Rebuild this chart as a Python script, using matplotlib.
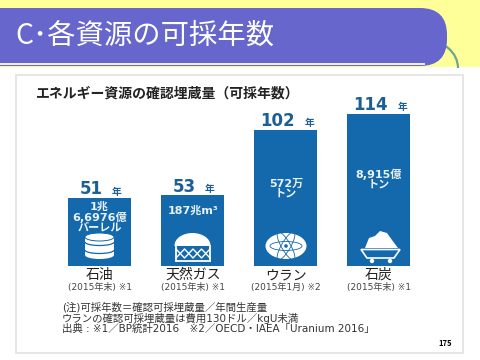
import matplotlib
matplotlib.use('Agg')
import matplotlib.pyplot as plt
from matplotlib.patches import Rectangle, Ellipse, FancyBboxPatch, Polygon, Arc, Circle

JP = ['Noto Sans CJK JP', 'DejaVu Sans']
WIDE = ['DejaVu Sans', 'Noto Sans CJK JP']
plt.rcParams['font.family'] = JP

# Data
resources = ['石油', '天然ガス', 'ウラン', '石炭']
years = [51, 53, 102, 114]
reserves = ['1兆\n6,6976億\nバーレル', '187兆m³', '572万\nトン', '8,915億\nトン']
dates = ['(2015年末) ※1', '(2015年末) ※1', '(2015年1月) ※2', '(2015年末) ※1']
notes = ['(注)可採年数＝確認可採埋蔵量／年間生産量',
         'ウランの確認可採埋蔵量は費用130ドル／kgU未満',
         '出典 : ※1／BP統計2016　※2／OECD・IAEA「Uranium 2016」']

BLUE = '#1468ac'
NAVY = '#1c5f96'
PX = 0.72  # points per pixel at dpi 100

fig = plt.figure(figsize=(4.8, 3.6), dpi=100, facecolor='white')

# Background axes in pixel coordinates
bg = fig.add_axes([0, 0, 1, 1])
bg.set_xlim(0, 480)
bg.set_ylim(360, 0)
bg.axis('off')

# Slide header
bg.add_patch(Rectangle((0, 0), 480, 66.5, color='#ffff99', lw=0))
bg.add_patch(Arc((425, 68), 66, 56, theta1=270, theta2=360, color='#6fa58f', lw=1.6, zorder=1))
bg.add_patch(FancyBboxPatch((-40, 8), 487, 58, boxstyle='round,pad=0,rounding_size=27',
                            fc='#6666cc', ec='none', zorder=2))
bg.plot([0, 424], [63.5, 63.5], color='white', lw=1.3, zorder=4)
bg.text(15, 35.5, 'C･各資源の可採年数', color='white', fontsize=20.4, va='center', ha='left', zorder=5)

# Panel
bg.add_patch(Rectangle((16, 74.5), 447, 278, fc='white', ec='#e2e2e2', lw=1.2, zorder=3))
bg.text(36, 93.5, 'エネルギー資源の確認埋蔵量（可採年数）', fontsize=10, fontweight='bold',
        color='#222222', va='center', ha='left', zorder=5)

for i, line in enumerate(notes):
    bg.text(62, 307.5 + i * 10.7, line, fontsize=7.5, family=WIDE, color='#333333',
            va='center', ha='left', zorder=5)
bg.text(445, 343, '175', fontsize=5.5, fontweight='bold', color='black', va='center', ha='center', zorder=5)

# Bars
ax = fig.add_axes([53 / 480, (360 - 266) / 360, 372 / 480, 166 / 360])
ax.set_xlim(-0.5, 3.5)
ax.set_ylim(0, 124.5)
ax.axis('off')
ax.patch.set_alpha(0)
ax.bar(range(len(years)), years, width=0.67, color=BLUE)
for i, v in enumerate(years):
    year_dx = 24 if v >= 100 else 17.5
    ax.annotate(str(v), (i, v), xytext=(-8 * PX, 3.5 * PX), textcoords='offset points', ha='center',
                va='baseline', fontsize=12, fontweight='bold', family=WIDE, color=NAVY, annotation_clip=False)
    ax.annotate('年', (i, v), xytext=(year_dx * PX, 3.5 * PX), textcoords='offset points', ha='center',
                va='baseline', fontsize=7, fontweight='bold', color=NAVY, annotation_clip=False)

# Labels under and inside the bars
centers = [99.5, 193, 286, 379]
text_y = [217, 211, 189, 179]
fg = fig.add_axes([0, 0, 1, 1])
fg.set_xlim(0, 480)
fg.set_ylim(360, 0)
fg.axis('off')
fg.patch.set_alpha(0)
for x, name, d, r, y in zip(centers, resources, dates, reserves, text_y):
    fg.text(x, 275, name, fontsize=10, ha='center', va='center', color='#222222')
    fg.text(x, 287.5, d, fontsize=6.5, family=WIDE, ha='center', va='center', color='#444444')
    fg.text(x, y, r, fontsize=8, family=WIDE, fontweight='bold', ha='center', va='center',
            color='#e8f2f8', linespacing=0.95)

# Oil drum
x = centers[0]
fg.add_patch(Rectangle((x - 14.5, 237), 29, 18, fc='white', ec='none'))
fg.add_patch(Ellipse((x, 255), 29, 8, fc='white', ec='none'))
fg.add_patch(Ellipse((x, 237), 29, 8, fc='white', ec=BLUE, lw=0.7))
fg.add_patch(Arc((x, 242), 29, 7, theta1=0, theta2=180, color=BLUE, lw=0.9))
fg.add_patch(Arc((x, 250), 29, 7, theta1=0, theta2=180, color=BLUE, lw=0.9))

# Gas tank
x = centers[1]
fg.add_patch(Ellipse((x - 0.5, 245.5), 36, 25, fc='white', ec='none'))
fg.add_patch(Rectangle((x - 20, 245.5), 40, 18, fc=BLUE, ec='none'))
fg.plot([x - 17, x - 17], [246, 261], color='white', lw=1.3)
fg.plot([x + 17, x + 17], [246, 261], color='white', lw=1.3)
fg.plot([x - 17, x + 17], [261, 261], color='white', lw=1.3)
fg.plot([x - 17, x - 8.5, x, x + 8.5, x + 17], [249, 258, 249, 258, 249], color='white', lw=1)
fg.plot([x - 17, x - 8.5, x, x + 8.5, x + 17], [258, 249, 258, 249, 258], color='white', lw=1)

# Atom
x = centers[2]
fg.add_patch(Ellipse((x, 246), 41, 26, fc='white', ec='none'))
for angle in [0, 60, 120]:
    fg.add_patch(Ellipse((x, 246), 32, 9, angle=angle, fc='none', ec=BLUE, lw=0.6))
fg.add_patch(Circle((x, 246), 1.8, fc=BLUE, ec='none'))

# Coal cart
x = centers[3]
fg.add_patch(Polygon([(x - 14, 248), (x - 10, 238), (x - 4, 236), (x + 1, 231), (x + 8, 233),
                      (x + 13, 240), (x + 19, 248)], fc='white', ec='none'))
fg.add_patch(Polygon([(x - 18, 249.5), (x + 21, 249.5), (x + 15, 258), (x - 12, 258)],
                     fc=BLUE, ec='white', lw=1.2))
fg.add_patch(Circle((x - 7, 261), 2.2, fc='white', ec='none'))
fg.add_patch(Circle((x + 11, 261), 2.2, fc='white', ec='none'))

fig.savefig('out.png', dpi=100)
